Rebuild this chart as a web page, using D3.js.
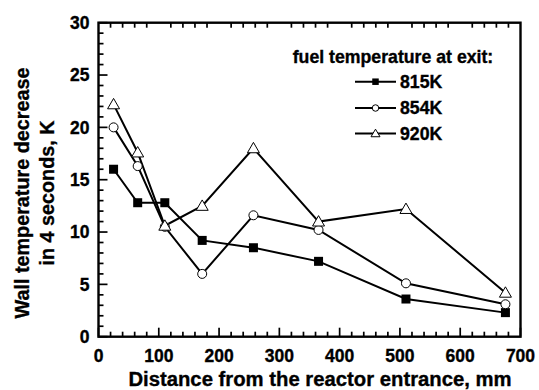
<!DOCTYPE html>
<html>
<head>
<meta charset="utf-8">
<script src="https://cdn.jsdelivr.net/npm/d3@7"></script>
<style>
  body { margin: 0; background: #fff; }
  text { font-family: "Liberation Sans", Arial, sans-serif; font-weight: bold; fill: #000; stroke: #000; stroke-width: 0.35px; }
</style>
</head>
<body>
<div id="chart"></div>
<script>
// distance from reactor entrance, mm
var distance = [25, 65, 110, 172, 257, 365, 510, 675];
// wall temperature decrease in 4 s, K
var t815 = [16.0, 12.8, 12.8, 9.2, 8.5, 7.2, 3.6, 2.3];
var t854 = [20.0, 16.3, 10.5, 6.0, 11.6, 10.2, 5.1, 3.1];
var t920 = [22.2, 17.6, 10.6, 12.5, 18.0, 11.0, 12.2, 4.2];
var seriesNames = ["815K", "854K", "920K"];
var seriesShapes = ["square", "circle", "triangle"];

var xTicks = [0, 100, 200, 300, 400, 500, 600, 700];
var yTicks = [0, 5, 10, 15, 20, 25, 30];

var width = 539, height = 390;
var plotLeft = 98.5, plotRight = 520.5, plotTop = 22.7, plotBottom = 336.7;

var svg = d3.select("#chart").append("svg")
    .attr("width", width)
    .attr("height", height);

var x = d3.scaleLinear().domain([0, 700]).range([plotLeft, plotRight]);
var y = d3.scaleLinear().domain([0, 30]).range([plotBottom, plotTop]);

var series = [t815, t854, t920].map(function(vals, i){
    return {
        name: seriesNames[i],
        shape: seriesShapes[i],
        points: vals.map(function(v, j){ return [distance[j], v]; })
    };
});

// ticks, pointing inward
var xMinor = d3.range(0, 701, 20).filter(function(d){ return d % 100 !== 0; });
var yMinor = d3.range(0, 31, 1).filter(function(d){ return d % 5 !== 0; });

var ticks = svg.append("g").attr("stroke", "#000").attr("stroke-width", 1.7);

ticks.selectAll(".xmaj").data(xTicks).enter().append("line")
    .attr("x1", function(d){ return x(d); }).attr("x2", function(d){ return x(d); })
    .attr("y1", plotBottom).attr("y2", plotBottom - 9);
ticks.selectAll(".xmin").data(xMinor).enter().append("line")
    .attr("x1", function(d){ return x(d); }).attr("x2", function(d){ return x(d); })
    .attr("y1", plotBottom).attr("y2", plotBottom - 5);
// top edge only carries the minor ticks
ticks.selectAll(".xtop").data(xMinor).enter().append("line")
    .attr("x1", function(d){ return x(d); }).attr("x2", function(d){ return x(d); })
    .attr("y1", plotTop).attr("y2", plotTop + 5);
ticks.selectAll(".ymaj").data(yTicks).enter().append("line")
    .attr("y1", function(d){ return y(d); }).attr("y2", function(d){ return y(d); })
    .attr("x1", plotLeft).attr("x2", plotLeft + 9);
ticks.selectAll(".ymin").data(yMinor).enter().append("line")
    .attr("y1", function(d){ return y(d); }).attr("y2", function(d){ return y(d); })
    .attr("x1", plotLeft).attr("x2", plotLeft + 5);

// frame
svg.append("rect")
    .attr("x", plotLeft).attr("y", plotTop)
    .attr("width", plotRight - plotLeft).attr("height", plotBottom - plotTop)
    .attr("fill", "none").attr("stroke", "#000").attr("stroke-width", 2.4);

// tick labels
svg.selectAll(".xlab").data(xTicks).enter().append("text")
    .attr("x", function(d){ return x(d); })
    .attr("y", 362)
    .attr("text-anchor", "middle")
    .style("font-size", "17.5px")
    .text(function(d){ return d; });
svg.selectAll(".ylab").data(yTicks).enter().append("text")
    .attr("x", 89.5)
    .attr("y", function(d){ return y(d) + 6.2; })
    .attr("text-anchor", "end")
    .style("font-size", "17.5px")
    .text(function(d){ return d; });

// axis titles
svg.append("text")
    .attr("x", 320).attr("y", 385.5)
    .attr("text-anchor", "middle")
    .style("font-size", "20.3px")
    .text("Distance from the reactor entrance, mm");
svg.append("text")
    .attr("transform", "translate(29,193) rotate(-90)")
    .attr("text-anchor", "middle")
    .style("font-size", "19.8px")
    .text("Wall temperature decrease");
svg.append("text")
    .attr("transform", "translate(54,193) rotate(-90)")
    .attr("text-anchor", "middle")
    .style("font-size", "19.8px")
    .text("in 4 seconds, K");

// markers
function drawMarker(g, shape, cx, cy, s){
    if (shape === "square") {
        g.append("rect").attr("x", cx - s / 2).attr("y", cy - s / 2)
            .attr("width", s).attr("height", s)
            .attr("fill", "#000");
    } else if (shape === "circle") {
        g.append("circle").attr("cx", cx).attr("cy", cy).attr("r", s / 2)
            .attr("fill", "#fff").attr("stroke", "#000").attr("stroke-width", 1);
    } else {
        var h = s * 0.9;
        g.append("path")
            .attr("d", "M" + cx + "," + (cy - h * 0.6) + "L" + (cx + s / 2 + 0.5) + "," + (cy + h * 0.45) +
                "L" + (cx - s / 2 - 0.5) + "," + (cy + h * 0.45) + "Z")
            .attr("fill", "#fff").attr("stroke", "#000").attr("stroke-width", 1);
    }
}

var line = d3.line()
    .x(function(d){ return x(d[0]); })
    .y(function(d){ return y(d[1]); });

series.forEach(function(s){
    svg.append("path")
        .attr("d", line(s.points))
        .attr("fill", "none")
        .attr("stroke", "#000")
        .attr("stroke-width", 2);
});
series.forEach(function(s){
    var g = svg.append("g");
    s.points.forEach(function(p){
        drawMarker(g, s.shape, x(p[0]), y(p[1]), s.shape === "triangle" ? 11 : 9);
    });
});

// legend
svg.append("text")
    .attr("x", 393).attr("y", 63)
    .attr("text-anchor", "middle")
    .style("font-size", "17.7px")
    .text("fuel temperature at exit:");

var legendY = [81.7, 108, 133.5];
series.forEach(function(s, i){
    var g = svg.append("g");
    g.append("line")
        .attr("x1", 355).attr("x2", 396)
        .attr("y1", legendY[i]).attr("y2", legendY[i])
        .attr("stroke", "#000").attr("stroke-width", 2);
    drawMarker(g, s.shape, 375.5, legendY[i], s.shape === "triangle" ? 8 : 6.5);
    g.append("text")
        .attr("x", 400).attr("y", legendY[i] + 6.4)
        .style("font-size", "17.7px")
        .text(s.name);
});
</script>
</body>
</html>
